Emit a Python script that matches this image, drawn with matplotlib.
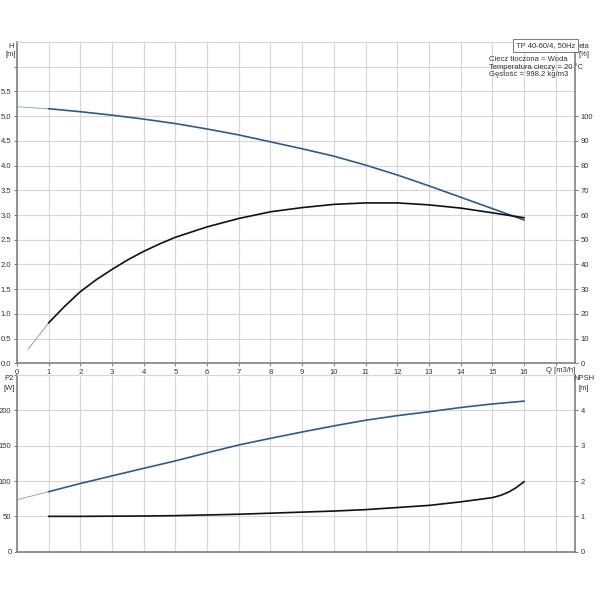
import matplotlib
matplotlib.use("Agg")
import matplotlib.pyplot as plt
import numpy as np

plt.rcParams['font.family'] = ['Liberation Sans', 'DejaVu Sans']

# ---- data ----
q = [0, 1, 2, 3, 4, 5, 6, 7, 8, 9, 10, 11, 12, 13, 14, 15, 16]
head = [5.19, 5.15, 5.09, 5.02, 4.94, 4.85, 4.74, 4.62, 4.48, 4.34, 4.19,
        4.01, 3.81, 3.59, 3.36, 3.13, 2.90]
power = [73.6, 84.9, 96.5, 107.3, 118.0, 128.5, 140.0, 151.0, 160.4, 169.4,
         178.0, 186.0, 192.5, 198.0, 204.0, 209.0, 213.0]

q_eta = [0.36, 1, 1.5, 2, 2.5, 3, 3.5, 4, 4.5, 5, 6, 7, 8, 9, 10, 11, 12,
         13, 14, 15, 16]
eta = [5.8, 16.4, 23.0, 29.0, 33.8, 38.0, 41.9, 45.3, 48.3, 51.0, 55.2,
       58.6, 61.3, 63.0, 64.3, 64.9, 64.9, 64.1, 62.8, 60.9, 58.9]

q_npsh = [1, 2, 3, 4, 5, 6, 7, 8, 9, 10, 11, 12, 13, 14, 14.5, 15, 15.25,
          15.5, 15.75, 16]
npsh = [1.00, 1.00, 1.005, 1.01, 1.02, 1.04, 1.06, 1.09, 1.12, 1.15, 1.19,
        1.25, 1.31, 1.41, 1.47, 1.53, 1.59, 1.68, 1.81, 1.98]

x_ticks = list(range(0, 18))
x_labels = [str(v) for v in range(0, 17)] + [""]
h_ticks = [0.0, 0.5, 1.0, 1.5, 2.0, 2.5, 3.0, 3.5, 4.0, 4.5, 5.0, 5.5, 6.0]
h_labels = ["0.0", "0.5", "1.0", "1.5", "2.0", "2.5", "3.0", "3.5", "4.0",
            "4.5", "5.0", "5.5", ""]
eta_ticks = [0, 10, 20, 30, 40, 50, 60, 70, 80, 90, 100]
p_ticks = [0, 50, 100, 150, 200, 250]
p_labels = ["0", "50", "100", "150", "200", ""]
npsh_ticks = [0, 1, 2, 3, 4]

title_text = "TP 40-60/4, 50Hz"
info_lines = ["Ciecz tłoczona = Woda", "Temperatura cieczy = 20 °C",
              "Gęstość = 998.2 kg/m3"]

# ---- styling ----
BLUE = '#2b5c8f'
BLACK = '#111111'
GRID = '#d6d6d6'
SPINE = '#808080'
TXT = '#333333'
FS = 5.5
W = 600.0

fig = plt.figure(figsize=(6, 6), dpi=100)
fig.patch.set_facecolor('white')

def px_axes(left, top, right, bottom):
    return [left / W, 1 - bottom / W, (right - left) / W, (bottom - top) / W]

ax1 = fig.add_axes(px_axes(17, 42, 575, 363.3))
ax2 = fig.add_axes(px_axes(17, 375, 575, 551.7))

def style(ax):
    ax.set_xlim(0, 17.61)
    ax.grid(True, color=GRID, lw=0.8)
    ax.set_axisbelow(True)
    for s in ['left', 'right', 'bottom']:
        ax.spines[s].set_color(SPINE)
        ax.spines[s].set_linewidth(1.2)
    ax.spines['top'].set_color(GRID)
    ax.spines['top'].set_linewidth(0.8)
    ax.tick_params(colors=SPINE, labelcolor=TXT, labelsize=FS, length=2.5,
                   width=0.8, pad=1.5)

style(ax1)
style(ax2)

# top axes: H and eta
ax1.set_ylim(0, 6.5)
ax1.set_xticks(x_ticks)
ax1.set_xticklabels(x_labels)
ax1.set_yticks(h_ticks)
ax1.set_yticklabels(h_labels)
ax1.plot(q[:2], head[:2], color=BLUE, lw=0.6, alpha=0.6)
ax1.plot(q[1:], head[1:], color=BLUE, lw=1.2)

ax1r = ax1.twinx()
ax1r.set_xlim(0, 17.61)
ax1r.set_ylim(0, 130)
ax1r.set_yticks(eta_ticks)
for s in ax1r.spines.values():
    s.set_visible(False)
ax1r.tick_params(colors=SPINE, labelcolor=TXT, labelsize=FS, length=2.5,
                 width=0.8, pad=1.5)
ax1r.plot(q_eta[:2], eta[:2], color='#8a8a8a', lw=0.6)
ax1r.plot(q_eta[1:], eta[1:], color=BLACK, lw=1.2)

# bottom axes: P2 and NPSH
ax2.set_ylim(0, 250)
ax2.set_xticks(x_ticks)
ax2.set_xticklabels([])
ax2.tick_params(axis='x', length=0)
ax2.set_yticks(p_ticks)
ax2.set_yticklabels(p_labels)
ax2.plot(q[:2], power[:2], color=BLUE, lw=0.6, alpha=0.6)
ax2.plot(q[1:], power[1:], color=BLUE, lw=1.2)

ax2r = ax2.twinx()
ax2r.set_xlim(0, 17.61)
ax2r.set_ylim(0, 5)
ax2r.set_yticks(npsh_ticks)
for s in ax2r.spines.values():
    s.set_visible(False)
ax2r.tick_params(colors=SPINE, labelcolor=TXT, labelsize=FS, length=2.5,
                 width=0.8, pad=1.5)
ax2r.plot(q_npsh, npsh, color=BLACK, lw=1.2)

# annotations
ax1.text(1.0, 1.0, title_text, transform=ax1.transAxes, ha='right', va='top',
         fontsize=FS, color=TXT,
         bbox=dict(boxstyle='square,pad=0.35', fc='white', ec='#666666', lw=0.6),
         zorder=5)
for i, line in enumerate(info_lines):
    fig.text(489 / W, 1 - (59.3 + 7.5 * i) / W, line, ha='left', va='center',
             fontsize=FS, color=TXT)

def ftxt(x, y, s):
    fig.text(x / W, 1 - y / W, s, ha='center', va='center', fontsize=FS,
             color=TXT)

ftxt(11, 46, "H")
ftxt(11, 54.5, "[m]")
ftxt(584, 46, "eta")
ftxt(584, 54.5, "[%]")
ftxt(9, 379, "P2")
ftxt(9, 388, "[W]")
ftxt(584, 379, "NPSH")
ftxt(584, 388, "[m]")
ftxt(561, 370.3, "Q [m3/h]")

fig.savefig("out.png", dpi=100)
